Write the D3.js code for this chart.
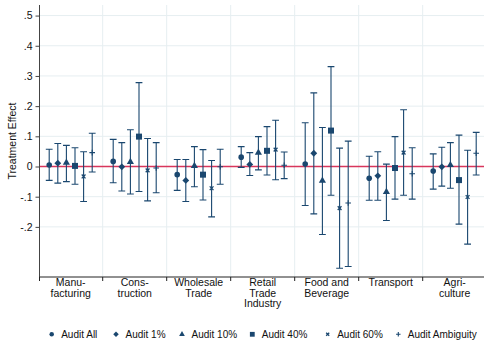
<!DOCTYPE html>
<html>
<head>
<meta charset="utf-8">
<script src="https://cdn.jsdelivr.net/npm/d3@7"></script>
<style>
  html, body { margin: 0; padding: 0; background: #fff; }
  svg { display: block; font-family: "Liberation Sans", Arial, sans-serif; }
</style>
</head>
<body>
<svg id="chart" width="484" height="345"></svg>
<script>
// ---- data ----
const categories = ["Manufacturing", "Construction", "Wholesale Trade", "Retail Trade Industry", "Food and Beverage", "Transport", "Agriculture"];
const categoryLabels = [["Manu-", "facturing"], ["Cons-", "truction"], ["Wholesale", "Trade"], ["Retail", "Trade", "Industry"], ["Food and", "Beverage"], ["Transport"], ["Agri-", "culture"]];
const seriesNames = ["Audit All", "Audit 1%", "Audit 10%", "Audit 40%", "Audit 60%", "Audit Ambiguity"];
const seriesMarkers = ["circle", "diamond", "triangle", "square", "x", "plus"];

const estAll = [0.005, 0.017, -0.027, 0.031, 0.008, -0.039, -0.015];
const loAll  = [-0.046, -0.054, -0.079, -0.003, -0.129, -0.112, -0.075];
const hiAll  = [0.057, 0.090, 0.023, 0.066, 0.145, 0.034, 0.042];

const est1 = [0.011, -0.001, -0.046, 0.007, 0.044, -0.031, -0.001];
const lo1  = [-0.055, -0.081, -0.116, -0.030, -0.157, -0.112, -0.065];
const hi1  = [0.076, 0.079, 0.023, 0.046, 0.244, 0.049, 0.064];

const est10 = [0.013, 0.015, 0.002, 0.046, -0.047, -0.084, 0.005];
const lo10  = [-0.050, -0.091, -0.067, -0.011, -0.225, -0.179, -0.072];
const hi10  = [0.070, 0.122, 0.066, 0.099, 0.129, 0.008, 0.079];

const est40 = [0.002, 0.099, -0.027, 0.052, 0.119, -0.005, -0.045];
const lo40  = [-0.059, -0.083, -0.111, -0.028, -0.095, -0.108, -0.191];
const hi40  = [0.062, 0.278, 0.056, 0.132, 0.331, 0.099, 0.104];

const est60 = [-0.033, -0.013, -0.072, 0.056, -0.138, 0.046, -0.101];
const lo60  = [-0.116, -0.114, -0.167, -0.044, -0.337, -0.095, -0.257];
const hi60  = [0.049, 0.093, 0.020, 0.153, 0.061, 0.188, 0.054];

const estAmb = [0.046, -0.005, -0.001, 0.004, -0.121, -0.024, 0.044];
const loAmb  = [-0.018, -0.087, -0.059, -0.040, -0.331, -0.108, -0.028];
const hiAmb  = [0.110, 0.079, 0.057, 0.048, 0.084, 0.062, 0.113];

const yTicks = [0.5, 0.4, 0.3, 0.2, 0.1, 0, -0.1, -0.2];
const yTickLabels = [".5", ".4", ".3", ".2", ".1", "0", "-.1", "-.2"];

const seriesEst = [estAll, est1, est10, est40, est60, estAmb];
const seriesLo = [loAll, lo1, lo10, lo40, lo60, loAmb];
const seriesHi = [hiAll, hi1, hi10, hi40, hi60, hiAmb];

// ---- layout ----
const navy = "#1a476f";
const fontSize = 10.5;
const legendFontSize = 10;
const legendMarkerX = [51.7, 116, 182, 252.3, 327.7, 398.3];
const svg = d3.select("#chart");
const axisX = 39.5, plotTop = 5, plotBottom = 277, plotRight = 484;

const x = d3.scaleBand().domain(categories).range([38.7, 486.7]).padding(0);
const y = d3.scaleLinear().domain([-0.366, 0.535]).range([plotBottom, plotTop]);
const step = 8.6;
const offset = i => (i - (seriesNames.length - 1) / 2) * step;

// gridlines
const grid = svg.append("g");
yTicks.filter(t => t !== 0).forEach(t => {
  grid.append("line").attr("x1", axisX).attr("x2", plotRight)
    .attr("y1", y(t)).attr("y2", y(t))
    .attr("stroke", "#e6eef1").attr("stroke-width", 1);
});
categories.slice(1).forEach(c => {
  grid.append("line").attr("x1", x(c)).attr("x2", x(c))
    .attr("y1", plotTop).attr("y2", plotBottom)
    .attr("stroke", "#e6eef1").attr("stroke-width", 1);
});

// zero line
svg.append("line").attr("x1", axisX).attr("x2", plotRight)
  .attr("y1", y(0)).attr("y2", y(0))
  .attr("stroke", "#d8365c").attr("stroke-width", 1.3);

// y axis
const yAxis = d3.axisLeft(y).tickValues(yTicks)
  .tickFormat((d, i) => yTickLabels[i]).tickSize(4).tickPadding(3);
const gy = svg.append("g").attr("transform", `translate(${axisX},0)`).call(yAxis);
gy.select(".domain").remove();
gy.attr("font-family", null).attr("font-size", null);
gy.selectAll(".tick line").attr("stroke", "#444");
gy.selectAll(".tick text").attr("font-size", fontSize).attr("fill", "#111");
svg.append("line").attr("x1", axisX).attr("x2", axisX).attr("y1", plotTop).attr("y2", plotBottom)
  .attr("stroke", "#444").attr("stroke-width", 1);

svg.append("text").attr("transform", `translate(16,${(plotTop + plotBottom) / 2}) rotate(-90)`)
  .attr("text-anchor", "middle").attr("font-size", fontSize).attr("fill", "#111")
  .text("Treatment Effect");

// x axis
svg.append("line").attr("x1", axisX).attr("x2", plotRight).attr("y1", plotBottom).attr("y2", plotBottom)
  .attr("stroke", "#222").attr("stroke-width", 1);
categories.forEach((c, ci) => {
  const bx = Math.max(x(c), axisX);
  svg.append("line").attr("x1", bx).attr("x2", bx).attr("y1", plotBottom).attr("y2", plotBottom + 4)
    .attr("stroke", "#222").attr("stroke-width", 1);
  const t = svg.append("text").attr("text-anchor", "middle").attr("font-size", fontSize).attr("fill", "#111");
  categoryLabels[ci].forEach((line, li) => {
    t.append("tspan").attr("x", x(c) + x.bandwidth() / 2).attr("y", 286 + li * 10.5).text(line);
  });
});

// markers
function drawMarker(g, type, cx, cy, scale) {
  const s = scale || 1;
  if (type === "circle") {
    g.append("circle").attr("cx", cx).attr("cy", cy).attr("r", 2.8 * s).attr("fill", navy);
  } else if (type === "diamond") {
    const r = 3.4 * s;
    g.append("path").attr("d", `M${cx},${cy - r}L${cx + r},${cy}L${cx},${cy + r}L${cx - r},${cy}Z`).attr("fill", navy);
  } else if (type === "triangle") {
    g.append("path").attr("d", d3.symbol(d3.symbolTriangle, 22 * s * s)()).attr("transform", `translate(${cx},${cy})`).attr("fill", navy);
  } else if (type === "square") {
    const h = 3 * s;
    g.append("rect").attr("x", cx - h).attr("y", cy - h).attr("width", 2 * h).attr("height", 2 * h).attr("fill", navy);
  } else if (type === "x") {
    const h = 1.9 * s;
    g.append("path").attr("d", `M${cx - h},${cy - h}L${cx + h},${cy + h}M${cx - h},${cy + h}L${cx + h},${cy - h}`)
      .attr("stroke", navy).attr("stroke-width", 1.3).attr("fill", "none");
  } else if (type === "plus") {
    const h = 2.8 * s;
    g.append("path").attr("d", `M${cx - h},${cy}L${cx + h},${cy}M${cx},${cy - h}L${cx},${cy + h}`)
      .attr("stroke", navy).attr("stroke-width", 1.1).attr("fill", "none");
  }
}

// error bars and points
const marks = svg.append("g");
seriesNames.forEach((name, si) => {
  categories.forEach((c, ci) => {
    const cx = x(c) + x.bandwidth() / 2 + offset(si);
    const lo = seriesLo[si][ci], hi = seriesHi[si][ci], est = seriesEst[si][ci];
    const cap = 3.4;
    marks.append("path")
      .attr("d", `M${cx},${y(lo)}L${cx},${y(hi)}M${cx - cap},${y(lo)}L${cx + cap},${y(lo)}M${cx - cap},${y(hi)}L${cx + cap},${y(hi)}`)
      .attr("stroke", navy).attr("stroke-width", 1.1).attr("fill", "none");
    drawMarker(marks, seriesMarkers[si], cx, y(est), 1);
  });
});

// legend
const legend = svg.append("g");
const ly = 334.3;
seriesNames.forEach((name, si) => {
  const lx = legendMarkerX[si];
  drawMarker(legend, seriesMarkers[si], lx, ly, 0.8);
  legend.append("text").attr("x", lx + 9.5).attr("y", ly + 3.6)
    .attr("font-size", legendFontSize).attr("fill", "#111").text(name);
});
</script>
</body>
</html>
